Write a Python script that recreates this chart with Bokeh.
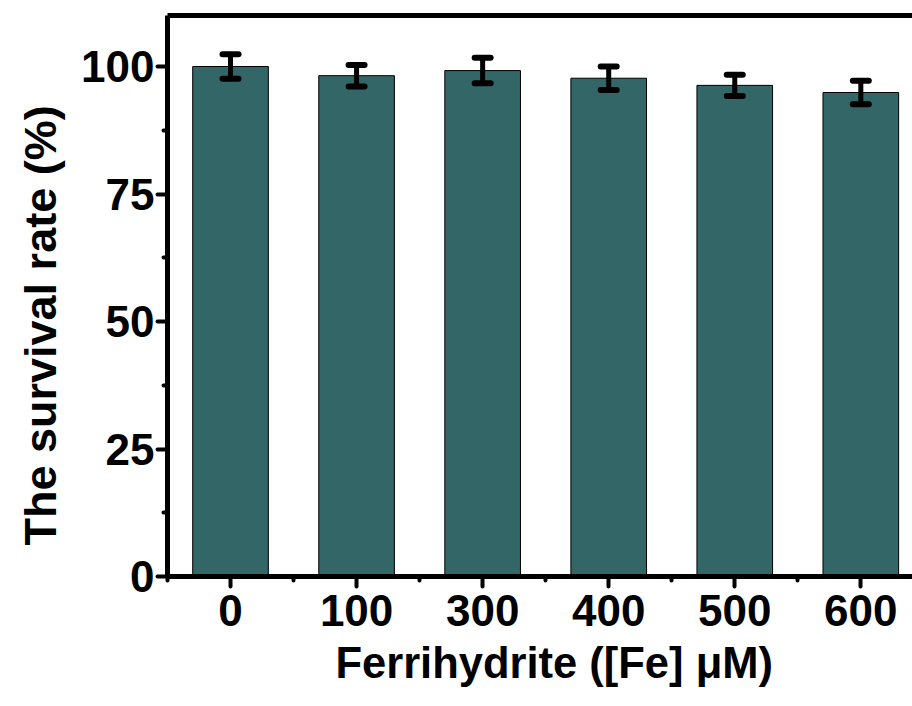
from bokeh.plotting import figure
from bokeh.models import (ColumnDataSource, Range1d, FixedTicker, LinearAxis,
                          Whisker, TeeHead, Title)
from bokeh.embed import file_html
from bokeh.resources import INLINE

# Data
categories = ["0", "100", "300", "400", "500", "600"]
survival = [100.0, 98.2, 99.2, 97.7, 96.3, 94.9]
errors = [2.4, 2.1, 2.5, 2.3, 2.1, 2.3]
y_ticks = [0, 25, 50, 75, 100]

xs = list(range(len(categories)))
src = ColumnDataSource(dict(
    x=xs, top=survival,
    upper=[v + e for v, e in zip(survival, errors)],
    lower=[v - e for v, e in zip(survival, errors)],
))

FONT = "Liberation Sans"
BAR = "#336666"

p = figure(width=912, height=706, output_backend="svg", toolbar_location=None,
           x_range=Range1d(-0.5, 5.41), y_range=Range1d(0, 110),
           min_border_left=167, min_border_right=0, min_border_top=15,
           min_border_bottom=130)
p.outline_line_color = None
p.grid.visible = False
p.background_fill_color = "white"
p.border_fill_color = "white"

p.vbar(x="x", top="top", bottom=0, width=0.6, source=src,
       fill_color=BAR, line_color="black", line_width=1)

w = Whisker(base="x", upper="upper", lower="lower", source=src, level="overlay",
            line_color="black", line_width=5, line_cap="round",
            upper_head=TeeHead(size=16, line_width=6, line_color="black", line_cap="round"),
            lower_head=TeeHead(size=16, line_width=6, line_color="black", line_cap="round"))
p.add_layout(w)

# X axis
xa = p.xaxis[0]
xa.ticker = FixedTicker(ticks=xs, minor_ticks=[i + 0.5 for i in range(-1, len(categories))])
xa.major_label_overrides = {i: c for i, c in enumerate(categories)}

# Y axis
ya = p.yaxis[0]
ya.ticker = FixedTicker(ticks=y_ticks, minor_ticks=[12.5, 37.5, 62.5, 87.5])

for ax in (xa, ya):
    ax.axis_line_width = 5
    ax.axis_line_color = "black"
    ax.major_tick_line_width = 4
    ax.major_tick_line_cap = "round"
    ax.major_tick_line_color = "black"
    ax.major_tick_out = 10
    ax.major_tick_in = 0
    ax.minor_tick_line_width = 4
    ax.minor_tick_line_cap = "round"
    ax.minor_tick_line_color = "black"
    ax.minor_tick_out = 4
    ax.minor_tick_in = 0
    ax.major_label_text_font = FONT
    ax.major_label_text_font_style = "bold"
    ax.major_label_text_font_size = "44px"
    ax.major_label_text_color = "black"

ya.major_label_standoff = 3
xa.major_label_standoff = 8

# axis titles (as side titles so they can be offset like the reference)
p.add_layout(Title(text="Ferrihydrite ([Fe] μM)", align="left", offset=168,
                   standoff=16, text_font=FONT, text_font_style="bold",
                   text_font_size="43.5px", text_color="black"), "below")
p.add_layout(Title(text="The survival rate (%)", align="left", offset=31,
                   standoff=22, vertical_align="top", text_font=FONT,
                   text_font_style="bold", text_font_size="45px",
                   text_color="black"), "left")

# top frame line
top = LinearAxis(ticker=FixedTicker(ticks=[]), axis_line_width=5,
                 axis_line_color="black", major_tick_line_color=None,
                 minor_tick_line_color=None, major_label_text_font_size="0px")
p.add_layout(top, "above")

open("out.html", "w").write(file_html(p, INLINE))
